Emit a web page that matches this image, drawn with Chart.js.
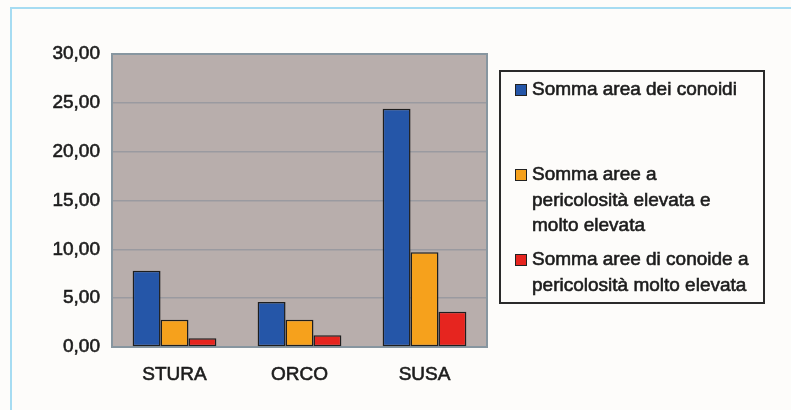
<!DOCTYPE html>
<html>
<head>
<meta charset="utf-8">
<script src="https://cdn.jsdelivr.net/npm/chart.js@4/dist/chart.umd.min.js"></script>
<style>
  html, body { margin: 0; padding: 0; background: #fdfcfa; }
  canvas { display: block; }
</style>
</head>
<body>
<canvas id="c" width="791" height="410"></canvas>
<script>
// Bacini e aree di conoide (valori in km²)
const categories = ['STURA', 'ORCO', 'SUSA'];
const sommaAreaConoidi = [7.8, 4.6, 24.4];
const sommaAreePericolositaElevata = [2.8, 2.8, 9.7];
const sommaAreePericolositaMoltoElevata = [0.9, 1.2, 3.6];
const yTicks = [0, 5, 10, 15, 20, 25, 30];

// Legend text, one entry per line
const seriesNames = [
  ['Somma area dei conoidi'],
  ['Somma aree a', 'pericolosità elevata e', 'molto elevata'],
  ['Somma aree di conoide a', 'pericolosità molto elevata']
];
const seriesColors = ['#2556a8', '#f6a11c', '#e6251f'];

const FONT = '"Liberation Sans", Arial, sans-serif';
const TEXT = '#1c1c1c';

const frameAndPlot = {
  id: 'frameAndPlot',
  beforeDraw(chart) {
    const { ctx, chartArea: a } = chart;
    ctx.save();
    ctx.fillStyle = '#fdfcfa';
    ctx.fillRect(0, 0, chart.width, chart.height);
    // outer frame
    ctx.strokeStyle = '#a6dcf2';
    ctx.lineWidth = 2;
    ctx.beginPath();
    ctx.moveTo(chart.width + 2, 8);
    ctx.lineTo(11, 8);
    ctx.lineTo(11, chart.height + 2);
    ctx.stroke();
    // plot area
    ctx.fillStyle = '#b8aeac';
    ctx.fillRect(a.left, a.top, a.right - a.left, a.bottom - a.top);
    ctx.restore();
  },
  beforeDatasetsDraw(chart) {
    const { ctx, chartArea: a } = chart;
    ctx.save();
    ctx.strokeStyle = '#8796a0';
    ctx.lineWidth = 2;
    ctx.strokeRect(a.left, a.top, a.right - a.left, a.bottom - a.top);
    ctx.restore();
  }
};

const boxedLegend = {
  id: 'boxedLegend',
  afterDraw(chart) {
    const { ctx } = chart;
    const box = { x: 500, y: 71, w: 264, h: 232 };
    ctx.save();
    ctx.fillStyle = '#fdfcfa';
    ctx.fillRect(box.x, box.y, box.w, box.h);
    ctx.strokeStyle = '#2a2a2a';
    ctx.lineWidth = 2;
    ctx.strokeRect(box.x, box.y, box.w, box.h);
    ctx.font = '19px ' + FONT;
    ctx.textBaseline = 'middle';
    const step = 85, lineH = 25.5;
    chart.data.datasets.forEach((ds, i) => {
      const y0 = box.y + 19 + i * step;
      ctx.fillStyle = ds.backgroundColor;
      ctx.fillRect(515, y0 - 6, 12, 12);
      ctx.strokeStyle = '#222';
      ctx.lineWidth = 1;
      ctx.strokeRect(515.5, y0 - 5.5, 11, 11);
      ctx.fillStyle = TEXT;
      ctx.strokeStyle = TEXT;
      ctx.lineWidth = 0.6;
      seriesNames[i].forEach((line, j) => {
        ctx.strokeText(line, 532, y0 + j * lineH);
        ctx.fillText(line, 532, y0 + j * lineH);
      });
    });
    ctx.restore();
  }
};

const datasets = [sommaAreaConoidi, sommaAreePericolositaElevata, sommaAreePericolositaMoltoElevata]
  .map((values, i) => ({
    label: seriesNames[i].join(' '),
    data: values,
    backgroundColor: seriesColors[i],
    borderColor: '#1e1e1e',
    borderWidth: 1.5,
    borderSkipped: false,
    categoryPercentage: 0.67,
    barPercentage: 1.0
  }));

new Chart(document.getElementById('c'), {
  type: 'bar',
  data: { labels: categories, datasets },
  options: {
    responsive: false,
    animation: false,
    events: [],
    layout: { padding: { top: 54, right: 304, bottom: 0, left: 0 } },
    plugins: { legend: { display: false }, tooltip: { enabled: false } },
    scales: {
      x: {
        grid: { display: false, drawTicks: false },
        border: { display: false },
        ticks: {
          color: TEXT, textStrokeColor: TEXT, textStrokeWidth: 0.6,
          font: { family: FONT, size: 19 }, padding: 16
        },
        afterFit(scale) { scale.height = 63; }
      },
      y: {
        min: 0,
        max: 30,
        afterBuildTicks(scale) { scale.ticks = yTicks.map(v => ({ value: v })); },
        grid: { color: '#9a9aa0', lineWidth: 1.5, drawTicks: false },
        border: { display: false },
        ticks: {
          color: TEXT, textStrokeColor: TEXT, textStrokeWidth: 0.6,
          font: { family: FONT, size: 19 },
          padding: 12,
          callback: v => v.toFixed(2).replace('.', ',')
        },
        afterFit(scale) { scale.width = 112; }
      }
    }
  },
  plugins: [frameAndPlot, boxedLegend]
});
</script>
</body>
</html>
